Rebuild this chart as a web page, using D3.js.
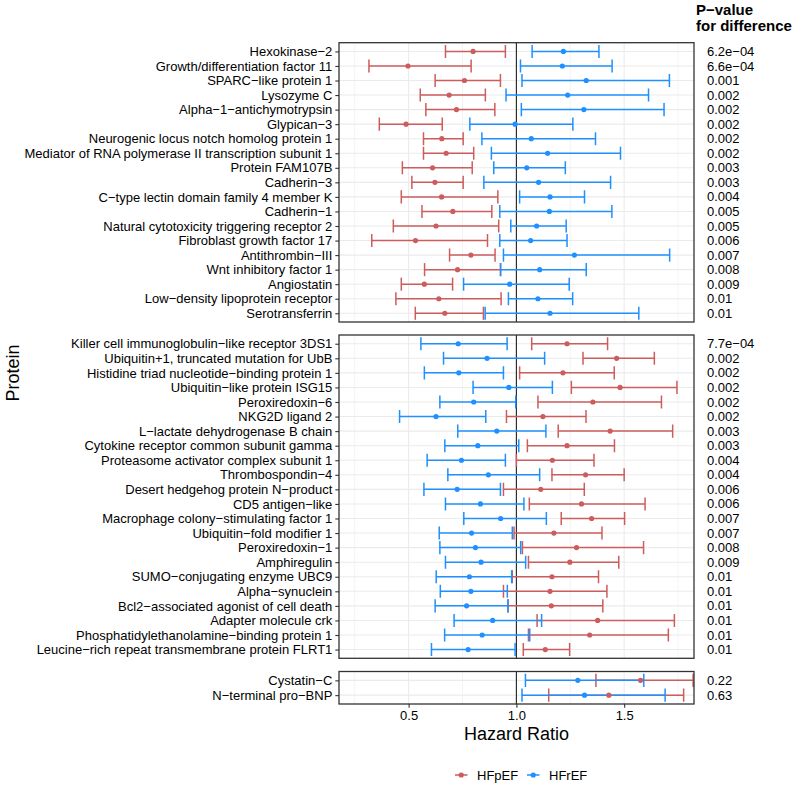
<!DOCTYPE html>
<html><head><meta charset="utf-8">
<script src="https://cdn.jsdelivr.net/npm/d3@7"></script>
<style>body{margin:0;background:#fff}svg{display:block;font-family:"Liberation Sans",Arial,sans-serif}</style>
</head><body><svg id="c" width="795" height="786"></svg>
<script>
// ---------- DATA ----------
const proteinsA = ["Hexokinase−2","Growth/differentiation factor 11","SPARC−like protein 1","Lysozyme C","Alpha−1−antichymotrypsin","Glypican−3","Neurogenic locus notch homolog protein 1","Mediator of RNA polymerase II transcription subunit 1","Protein FAM107B","Cadherin−3","C−type lectin domain family 4 member K","Cadherin−1","Natural cytotoxicity triggering receptor 2","Fibroblast growth factor 17","Antithrombin−III","Wnt inhibitory factor 1","Angiostatin","Low−density lipoprotein receptor","Serotransferrin"];
const pValuesA = ["6.2e−04","6.6e−04","0.001","0.002","0.002","0.002","0.002","0.002","0.003","0.003","0.004","0.005","0.005","0.006","0.007","0.008","0.009","0.01","0.01"];
// [lower, HR, upper]
const hfpefA = [[0.671,0.799,0.949],[0.316,0.497,0.790],[0.623,0.759,0.926],[0.554,0.688,0.856],[0.580,0.722,0.900],[0.364,0.488,0.656],[0.569,0.654,0.753],[0.569,0.674,0.802],[0.471,0.611,0.795],[0.515,0.622,0.753],[0.466,0.653,0.914],[0.562,0.705,0.886],[0.429,0.627,0.918],[0.329,0.532,0.866],[0.690,0.789,0.901],[0.574,0.727,0.927],[0.466,0.573,0.704],[0.441,0.640,0.929],[0.531,0.668,0.847]];
const hfrefA = [[1.073,1.218,1.383],[1.019,1.213,1.444],[1.026,1.324,1.710],[0.952,1.238,1.613],[1.023,1.313,1.685],[0.784,0.994,1.262],[0.840,1.069,1.367],[0.884,1.145,1.483],[0.895,1.048,1.227],[0.849,1.103,1.437],[1.015,1.156,1.316],[0.923,1.153,1.443],[0.974,1.094,1.231],[0.923,1.066,1.235],[0.940,1.269,1.711],[0.926,1.108,1.324],[0.755,0.969,1.245],[0.963,1.100,1.261],[0.855,1.156,1.568]];

const proteinsB = ["Killer cell immunoglobulin−like receptor 3DS1","Ubiquitin+1, truncated mutation for UbB","Histidine triad nucleotide−binding protein 1","Ubiquitin−like protein ISG15","Peroxiredoxin−6","NKG2D ligand 2","L−lactate dehydrogenase B chain","Cytokine receptor common subunit gamma","Proteasome activator complex subunit 1","Thrombospondin−4","Desert hedgehog protein N−product","CD5 antigen−like","Macrophage colony−stimulating factor 1","Ubiquitin−fold modifier 1","Peroxiredoxin−1","Amphiregulin","SUMO−conjugating enzyme UBC9","Alpha−synuclein","Bcl2−associated agonist of cell death","Adapter molecule crk","Phosphatidylethanolamine−binding protein 1","Leucine−rich repeat transmembrane protein FLRT1"];
const pValuesB = ["7.7e−04","0.002","0.002","0.002","0.002","0.002","0.003","0.003","0.004","0.004","0.006","0.006","0.007","0.007","0.008","0.009","0.01","0.01","0.01","0.01","0.01","0.01"];
const hfpefB = [[1.071,1.235,1.423],[1.309,1.465,1.640],[1.015,1.216,1.454],[1.255,1.481,1.745],[1.100,1.355,1.673],[0.954,1.123,1.323],[1.194,1.435,1.725],[1.051,1.235,1.455],[1.000,1.167,1.360],[1.165,1.321,1.500],[0.940,1.113,1.315],[1.060,1.302,1.597],[1.208,1.349,1.502],[0.989,1.174,1.397],[1.028,1.279,1.590],[1.056,1.248,1.475],[0.981,1.165,1.381],[0.940,1.156,1.420],[0.961,1.162,1.401],[1.096,1.377,1.733],[1.056,1.340,1.705],[1.032,1.134,1.247]];
const hfrefB = [[0.557,0.730,0.957],[0.662,0.864,1.131],[0.573,0.733,0.940],[0.799,0.965,1.167],[0.645,0.802,0.997],[0.458,0.627,0.858],[0.728,0.909,1.137],[0.668,0.821,1.011],[0.586,0.745,0.949],[0.682,0.870,1.108],[0.571,0.725,0.926],[0.671,0.833,1.035],[0.756,0.927,1.139],[0.642,0.792,0.981],[0.645,0.810,1.020],[0.671,0.836,1.043],[0.628,0.782,0.978],[0.647,0.789,0.958],[0.623,0.769,0.961],[0.711,0.890,1.117],[0.667,0.841,1.062],[0.606,0.776,0.994]];

const proteinsC = ["Cystatin−C","N−terminal pro−BNP"];
const pValuesC = ["0.22","0.63"];
const hfpefC = [[1.369,1.576,1.820],[1.150,1.429,1.776]];
const hfrefC = [[1.042,1.285,1.591],[1.026,1.316,1.690]];

const groups = ["HFpEF","HFrEF"];
const xTicks = [0.5, 1.0, 1.5];
const xMinor = [0.25, 0.75, 1.25, 1.75];
const xDomain = [0.177, 1.824];

// ---------- LAYOUT ----------
const colors = {HFpEF:"#CD5C5C", HFrEF:"#1E90FF"};
const svg = d3.select("#c");
const L = 339, R = 694;
const x = d3.scaleLinear().domain(xDomain).range([L, R]);
const panels = [
  {names:proteinsA, p:pValuesA, pef:hfpefA, ref:hfrefA, top:42.7, bot:322},
  {names:proteinsB, p:pValuesB, pef:hfpefB, ref:hfrefB, top:335, bot:658.3},
  {names:proteinsC, p:pValuesC, pef:hfpefC, ref:hfrefC, top:671.5, bot:704}
];
const defs = svg.append("defs");

panels.forEach((P, i) => {
  const y = d3.scalePoint().domain(P.names).range([P.top, P.bot]).padding(0.6);
  const step = y.step();
  const g = svg.append("g");
  defs.append("clipPath").attr("id","clip"+i).append("rect")
    .attr("x",L).attr("y",P.top).attr("width",R-L).attr("height",P.bot-P.top);
  // grid
  g.selectAll(".mn").data(xMinor).join("line")
    .attr("x1",d=>x(d)).attr("x2",d=>x(d)).attr("y1",P.top).attr("y2",P.bot)
    .attr("stroke","#EBEBEB").attr("stroke-width",0.6);
  g.selectAll(".mj").data(xTicks).join("line")
    .attr("x1",d=>x(d)).attr("x2",d=>x(d)).attr("y1",P.top).attr("y2",P.bot)
    .attr("stroke","#EBEBEB").attr("stroke-width",1.1);
  g.selectAll(".hy").data(P.names).join("line")
    .attr("x1",L).attr("x2",R).attr("y1",d=>y(d)).attr("y2",d=>y(d))
    .attr("stroke","#EBEBEB").attr("stroke-width",1.1);
  // reference line
  g.append("line").attr("x1",x(1)).attr("x2",x(1)).attr("y1",P.top).attr("y2",P.bot)
    .attr("stroke","#222").attr("stroke-width",1.1);
  // error bars
  const plot = g.append("g").attr("clip-path","url(#clip"+i+")");
  const sets = [{k:"HFpEF", d:P.pef},{k:"HFrEF", d:P.ref}];
  const half = step*0.45;
  sets.forEach(s => {
    const eb = plot.append("g").attr("stroke",colors[s.k]).attr("stroke-width",1.5).attr("fill","none");
    s.d.forEach((v, j) => {
      const yy = y(P.names[j]);
      eb.append("line").attr("x1",x(v[0])).attr("x2",x(v[2])).attr("y1",yy).attr("y2",yy);
      eb.append("line").attr("x1",x(v[0])).attr("x2",x(v[0])).attr("y1",yy-half).attr("y2",yy+half);
      eb.append("line").attr("x1",x(v[2])).attr("x2",x(v[2])).attr("y1",yy-half).attr("y2",yy+half);
    });
  });
  sets.forEach(s => {
    plot.append("g").selectAll("circle").data(s.d).join("circle")
      .attr("cx",v=>x(v[1])).attr("cy",(v,j)=>y(P.names[j])).attr("r",2.6)
      .attr("fill",colors[s.k]);
  });
  // border
  g.append("rect").attr("x",L).attr("y",P.top).attr("width",R-L).attr("height",P.bot-P.top)
    .attr("fill","none").attr("stroke","#333").attr("stroke-width",1.3);
  // y axis
  const ya = g.append("g").attr("transform",`translate(${L},0)`)
    .call(d3.axisLeft(y).tickSize(3.7).tickPadding(3));
  ya.select(".domain").remove();
  ya.selectAll(".tick line").attr("stroke","#333").attr("stroke-width",1.1);
  ya.selectAll(".tick text").attr("fill","#000").style("font-size","13px")
    .style("font-family","'Liberation Sans',Arial,sans-serif");
  // p-values
  g.selectAll(".pv").data(P.p).join("text")
    .attr("x",707).attr("y",(d,j)=>y(P.names[j])).attr("dy","0.35em")
    .style("font-size","13px").attr("fill","#000").text(d=>d);
  if (i === panels.length-1) {
    const xa = g.append("g").attr("transform",`translate(0,${P.bot})`)
      .call(d3.axisBottom(x).tickValues(xTicks).tickFormat(d3.format(".1f")).tickSize(3.7).tickPadding(3));
    xa.select(".domain").remove();
    xa.selectAll(".tick line").attr("stroke","#333").attr("stroke-width",1.1);
    xa.selectAll(".tick text").attr("fill","#000").style("font-size","13px")
      .style("font-family","'Liberation Sans',Arial,sans-serif");
  }
});

// titles
svg.append("text").attr("x",(L+R)/2).attr("y",740).attr("text-anchor","middle")
  .style("font-size","18px").text("Hazard Ratio");
svg.append("text").attr("transform","translate(19,373) rotate(-90)").attr("text-anchor","middle")
  .style("font-size","18px").text("Protein");
svg.append("text").attr("x",696).attr("y",15).style("font-size","15px").style("font-weight","bold").text("P−value");
svg.append("text").attr("x",696).attr("y",31).style("font-size","15px").style("font-weight","bold").text("for difference");

// legend
const lg = svg.append("g");
const legX = [455, 527];
groups.forEach((k, i) => {
  const gx = legX[i];
  lg.append("line").attr("x1",gx).attr("x2",gx+12.5).attr("y1",775).attr("y2",775)
    .attr("stroke",colors[k]).attr("stroke-width",1.5);
  lg.append("circle").attr("cx",gx+6.25).attr("cy",775).attr("r",2.6).attr("fill",colors[k]);
  lg.append("text").attr("x",gx+22).attr("y",775).attr("dy","0.35em").style("font-size","13px").text(k);
});
</script></body></html>
